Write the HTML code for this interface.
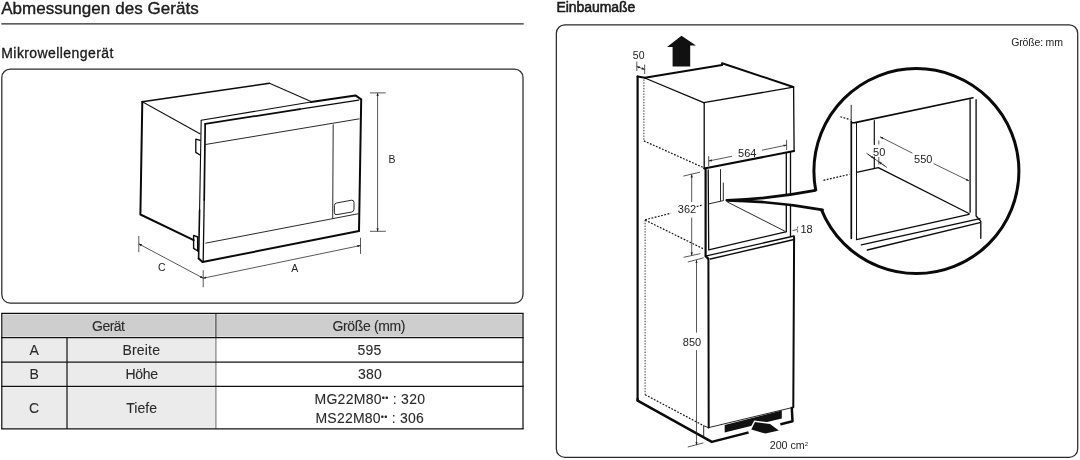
<!DOCTYPE html>
<html lang="de">
<head>
<meta charset="utf-8">
<title>Abmessungen des Geräts</title>
<style>
html,body{margin:0;padding:0;background:#fff;}
body{width:1080px;height:460px;position:relative;overflow:hidden;}
svg{position:absolute;left:0;top:0;display:block;will-change:transform;}
svg text{font-family:"Liberation Sans",sans-serif;fill:#222;}
.k{stroke:#0a0a0a;stroke-width:2;fill:none;stroke-linejoin:round;stroke-linecap:round;}
.m{stroke:#0a0a0a;stroke-width:1.3;fill:none;stroke-linejoin:round;stroke-linecap:round;}
.t{stroke:#111;stroke-width:0.9;fill:none;}
.d{stroke:#111;stroke-width:1.2;fill:none;stroke-dasharray:1.8 1.5;}
.dv{stroke:#333;stroke-width:1;fill:none;stroke-dasharray:1.4 1.4;}
.lt{font-size:10.5px;text-anchor:middle;}
.g{stroke:#222;stroke-width:0.75;fill:none;}
.bx{fill:none;stroke:#2a2a2a;stroke-width:1.25;}
.a1{marker-start:url(#ah);}
.a2{marker-end:url(#ah);}
.tl{stroke:#111;stroke-width:1.25;fill:none;}
.tc{text-anchor:middle;font-size:14px;fill:#2a2a2a;stroke:#2a2a2a;stroke-width:0.1px;}
.dm{font-size:11px;text-anchor:middle;}
</style>
</head>
<body>
<svg width="1080" height="460" viewBox="0 0 1080 460">
<defs><marker id="ah" viewBox="0 0 6 6" refX="5.6" refY="3" markerWidth="3.4" markerHeight="3.4" orient="auto-start-reverse" markerUnits="userSpaceOnUse"><path d="M0 1 L6 3 L0 5 Z" fill="#222"/></marker></defs>
<g id="headings">
<text x="1.2" y="14.3" font-size="17" textLength="197.5" lengthAdjust="spacing" fill="#111" stroke="#111" stroke-width="0.35">Abmessungen des Geräts</text>
<line x1="1.3" y1="23.9" x2="523.7" y2="23.9" stroke="#2a2a2a" stroke-width="1.2"/>
<text x="1.3" y="58.3" font-size="14" textLength="112" lengthAdjust="spacing" fill="#111" stroke="#111" stroke-width="0.3">Mikrowellengerät</text>
<text x="556.4" y="11.8" font-size="14" textLength="79" lengthAdjust="spacing" fill="#111" stroke="#111" stroke-width="0.5">Einbaumaße</text>
<rect class="bx" x="1.8" y="69" width="521.2" height="234.1" rx="8.5"/>
<rect class="bx" x="556.35" y="24.8" width="521.35" height="432.6" rx="8.5"/>
<text x="1011.3" y="46.4" font-size="10.5" textLength="51.6" lengthAdjust="spacing">Größe: mm</text>
</g>
<g id="table">
<rect x="1.8" y="313.4" width="214.1" height="115.5" fill="#f6f6f6"/>
<rect x="215.9" y="313.4" width="307.1" height="24.200000000000045" fill="#f6f6f6"/>
<rect x="2.85" y="314.45" width="212.00" height="22.10" fill="#cecece"/>
<rect x="216.95" y="314.45" width="305.00" height="22.10" fill="#cecece"/>
<rect x="2.85" y="338.65" width="63.10" height="22.40" fill="#ebebeb"/>
<rect x="68.05" y="338.65" width="146.80" height="22.40" fill="#ebebeb"/>
<rect x="2.85" y="363.15" width="63.10" height="22.20" fill="#ebebeb"/>
<rect x="68.05" y="363.15" width="146.80" height="22.20" fill="#ebebeb"/>
<rect x="2.85" y="387.45" width="63.10" height="40.40" fill="#ebebeb"/>
<rect x="68.05" y="387.45" width="146.80" height="40.40" fill="#ebebeb"/>
<line x1="215.9" y1="313.4" x2="215.9" y2="337.6" stroke="#666" stroke-width="1.6"/>
<line x1="215.9" y1="337.6" x2="215.9" y2="428.9" stroke="#808080" stroke-width="1.2"/>
<line class="tl" x1="1.2000000000000002" y1="313.4" x2="523.6" y2="313.4"/>
<line class="tl" x1="1.2000000000000002" y1="337.6" x2="523.6" y2="337.6"/>
<line class="tl" x1="1.2000000000000002" y1="362.1" x2="523.6" y2="362.1"/>
<line class="tl" x1="1.2000000000000002" y1="386.4" x2="523.6" y2="386.4"/>
<line class="tl" x1="1.2000000000000002" y1="428.9" x2="523.6" y2="428.9"/>
<line class="tl" x1="1.8" y1="313.4" x2="1.8" y2="428.9"/>
<line class="tl" x1="523.0" y1="313.4" x2="523.0" y2="428.9"/>
<line class="tl" x1="67.0" y1="337.6" x2="67.0" y2="428.9"/>
<text class="tc" x="108.5" y="330.8" font-size="15" textLength="33" lengthAdjust="spacing">Gerät</text>
<text class="tc" x="369" y="330.8" font-size="15" textLength="73" lengthAdjust="spacing">Größe (mm)</text>
<text class="tc" x="34.1" y="355.0" font-size="15">A</text>
<text class="tc" x="141.2" y="355.0" font-size="15" textLength="37.5" lengthAdjust="spacing">Breite</text>
<text class="tc" x="369.4" y="355.0" font-size="15" textLength="23.75" lengthAdjust="spacing">595</text>
<text class="tc" x="34.1" y="379.3" font-size="15">B</text>
<text class="tc" x="141.7" y="379.3" font-size="15" textLength="32.5" lengthAdjust="spacing">Höhe</text>
<text class="tc" x="369.9" y="379.3" font-size="15" textLength="23.75" lengthAdjust="spacing">380</text>
<text class="tc" x="34.1" y="413.2" font-size="15">C</text>
<text class="tc" x="141.6" y="413.2" font-size="15" textLength="30.75" lengthAdjust="spacing">Tiefe</text>
<text class="tc" x="369.75" y="404.2" font-size="15" textLength="110.5" lengthAdjust="spacing">MG22M80<tspan font-size="9" dy="-3.2">••</tspan><tspan dy="3.2"> : 320</tspan></text>
<text class="tc" x="369.6" y="422.7" font-size="15" textLength="108.25" lengthAdjust="spacing">MS22M80<tspan font-size="9" dy="-3.2">••</tspan><tspan dy="3.2"> : 306</tspan></text>
</g>
<g id="mw">
<path class="k" style="stroke-width:1.6" d="M142.3 101.8 L269.5 83.3"/>
<path class="k" d="M142.3 101.8 L140.4 214.5 L193.7 240.2"/>
<path class="t" style="stroke-width:1.05" d="M269.5 83.3 L311 101.6"/>
<path class="t" style="stroke-width:1.1" d="M142.3 101.8 L200.4 133.9"/>
<path class="m" style="stroke-width:1.1" d="M201.2 120.2 L311 102"/>
<path class="k" d="M311 102 L355.4 95.4 L361.2 99.3 L359 231"/>
<path class="k" style="stroke-width:1.7" d="M205.2 123.8 L300 109.2"/><path class="m" d="M300 109.2 L358.7 100.1"/>
<path class="m" style="stroke-width:1.1" d="M201.2 120.2 L199.6 210"/><path class="k" style="stroke-width:1.6" d="M199.6 210 L198.6 258.6"/>
<path class="k" style="stroke-width:1.7" d="M205.2 123.8 L204.2 200"/><path class="m" d="M204.2 200 L203.2 261"/><path class="k" d="M202.6 262 L359 231"/>
<path class="k" d="M198.6 258.6 L202.6 262"/>
<path class="t" d="M205.4 144.5 L359.5 118.8"/>
<path class="t" d="M205.4 243.2 L358.4 213.7"/>
<path class="t" d="M333.2 124.4 L332.7 218.7"/>
<path class="t" d="M336.5 203 L351.5 200.2 Q354 200 354 202.3 L354 209 Q354 211.5 351.8 212 L337 214.6 Q334.4 215 334.4 212.8 L334.4 205.5 Q334.4 203.5 336.5 203 Z"/>
<path class="m" d="M200.2 140.4 L195.8 139.1 L195.8 152.4 L200 155"/>
<path class="m" style="stroke-width:1.4" d="M197.6 237 L193.6 235.4 L193.6 248.4 L198 251"/><path class="m" d="M197.6 237 L197.6 251"/>
<path class="g" d="M369.9 92.9 L385.8 92.9 M369.9 231.3 L385.8 231.3"/>
<path class="g a1 a2" d="M377.6 92.9 L377.6 231.3"/>
<path class="g" d="M138.8 236 L138.8 252.2 M203.2 270.2 L203.2 287.3 M360.5 237.7 L360.5 253.9"/>
<path class="g a1 a2" d="M138.8 243.9 L203.2 278.2"/>
<path class="g a1 a2" d="M203.2 278.2 L360.5 245.5"/>
<text class="lt" x="392" y="162.6">B</text>
<text class="lt" x="161.8" y="271.2">C</text>
<text class="lt" x="294.7" y="272">A</text>
</g>

<g id="cab">
<polygon points="681.5,35.7 696,45.6 690.2,45.6 690.2,66.6 672.6,66.6 672.6,47 667,47" fill="#111"/>
<text class="dm" x="638.7" y="59" style="font-size:10.5px">50</text>
<path class="g" d="M636.8 61.6 L636.8 71 M644.7 64.5 L644.7 74"/>
<path class="g a1 a2" d="M636.8 66.5 L644.7 69.5"/>
<path class="k" style="stroke-width:2.2" d="M637.6 76.5 L637.6 400.6"/>
<path class="k" style="stroke-width:2.5" d="M637.6 399 L637.6 400.6 L711.8 441.9 L792.5 421.2 L791.8 408"/>
<path class="k" d="M637.6 76.5 L644.8 77.8 L722.1 65 L722.1 63.2 L793.3 87"/>
<path class="m" d="M644.8 78 L703.7 102.7 L793.3 87.2"/>
<path class="m" d="M704.2 102.7 L704.2 168.6 M793.6 87 L794.1 151"/>
<path class="dv" d="M643.9 79.5 L643.9 140.9"/>
<path class="d" d="M643.9 140.9 L703.7 167.7"/>
<path class="k" d="M704.2 168.6 L794.1 151"/>
<path class="g" d="M708.7 156 L708.7 166 M786.6 139.8 L786.6 150.1"/>
<path class="g a1" d="M708.7 161 L732 156.3"/>
<path class="g a2" d="M762 150.2 L786.6 145.1"/>
<text class="dm" x="747.3" y="156.8">564</text>
<path class="g" d="M683.3 176.1 L700 172.2 M683.6 257.3 L700.4 253.6"/>
<path class="g a1" d="M691.7 174.4 L691.7 202"/>
<path class="g a2" d="M691.7 217.6 L691.7 255.4"/>
<text class="dm" x="687" y="213.4">362</text>
<path class="g" d="M687.8 262 L703.7 257.8 M687.8 447 L703.4 442.9"/>
<path class="g a1" d="M696.5 260.1 L696.5 332.6"/>
<path class="g a2" d="M696.5 350.1 L696.5 445"/>
<text class="dm" x="692" y="346">850</text>
<path class="d" d="M645.1 219.8 L671 213.2 M696.7 206.5 L702.9 204.9 M645.1 220.1 L702.9 248.6 M645.1 394.7 L703.7 425.7"/>
<path class="dv" d="M645.1 220 L645.1 394.7"/>
<path class="k" style="stroke-width:2.2" d="M705.6 168.6 L705.6 256.1 L708.2 258.6"/>
<path class="m" d="M708.2 170 L708.7 249.9 L785.8 231.8"/>
<path class="t" d="M720.5 169.2 L720.5 201 M723.3 182.6 L723.3 200.2 M708.7 203.9 L723.8 200.5 M727.2 201.9 L784.9 231.2"/>
<path class="m" d="M786.3 152.5 L786.3 231.8 M790.5 152 L790.5 236"/>
<path class="m" d="M705.4 256.1 L794.1 236 M710.4 259 L794.1 239.5"/>
<path class="k" d="M708.4 259 L708.7 427.4 M793.3 407.3 L794.1 237"/>
<path class="t" d="M708.7 427.6 L793.3 407.3"/>
<path class="t" d="M703.7 425.7 L703.7 437.2 M703.7 425.7 L709 428"/>
<polygon points="724.7,425 781.8,410.4 781.8,418.4 724.7,432.4" fill="#111"/>
<path d="M748.6 432.5 L780.3 424.3" stroke="#fff" stroke-width="4.2" fill="none"/>
<polygon points="751.3,429.5 755,422.1 770,424 778.8,430.4 765.3,433.5" fill="#111" stroke="#fff" stroke-width="3" paint-order="stroke"/>
<text x="769.7" y="449.3" font-size="10.7">200 cm<tspan font-size="6" dy="-3.8">2</tspan></text>
<circle cx="916.4" cy="171.1" r="102.5" fill="#fff" stroke="#0a0a0a" stroke-width="3"/>
<path d="M726.8 200.3 Q773.3 198.6 815.4 190.4 L826 192 L829 207.5 L822.6 209.8 Q774.8 201.2 726.8 200.3 Z" fill="#fff"/>
<path d="M815.4 190.4 Q773.3 198.6 726.8 200.3 Q774.8 201.2 822.6 209.8" fill="none" stroke="#0a0a0a" stroke-width="2.7" stroke-linejoin="round" stroke-linecap="round"/>
<path class="g" d="M792.5 230.6 L797.6 229.4 M797.6 226.6 L797.6 228.5 M797.6 230.3 L797.6 232.4"/>
<text class="dm" x="806.5" y="233.2">18</text>
<g id="circ">
<path class="t" d="M851.2 104.8 L851.2 122"/>
<path class="k" style="stroke-width:1.7" d="M851.3 121.5 L851.3 238.3"/>
<path class="t" style="stroke-width:1.05" d="M856.5 122.5 L856.5 239.6"/>
<path class="m" d="M856.5 239.6 L969 214.3"/>
<path class="k" style="stroke-width:1.6" d="M852 122.8 L855 122.6 L973 97.7"/>
<path class="d" d="M840.4 116.7 L850.4 119.8 M823.5 180.3 L849.6 174.3"/>
<path class="m" d="M970.1 99.6 L970.1 212.2 M976.1 99.6 L976.1 216 L980.8 221.3 L980.8 238.3"/>
<path class="m" style="stroke-width:1.15" d="M874.3 120.6 L874.3 144.5 M874.3 157 L874.3 167.8"/>
<path class="m" d="M856.5 172.4 L878.3 167.6 L969 213.5"/>
<path class="m" d="M861.3 244.8 L980 218.7 M867.3 250 L980 222.6"/>
<path class="g a1" d="M880.1 136.8 L912.4 153.2"/>
<path class="g a2" d="M933.6 163.6 L969 180.9"/>
<text class="dm" x="923.3" y="163.2">550</text>
<text class="dm" x="879.2" y="155.8">50</text>
<path class="g" d="M866.4 153.2 L887 167.5 M878.8 140.5 L878.8 144.5 M878.8 157 L878.8 164.6"/>
<path class="g a2" d="M868 154.3 L874.3 158.7"/>
<path class="g a1" d="M878.8 161.8 L885 166.1"/>
</g>
</g>

</svg>
</body>
</html>
